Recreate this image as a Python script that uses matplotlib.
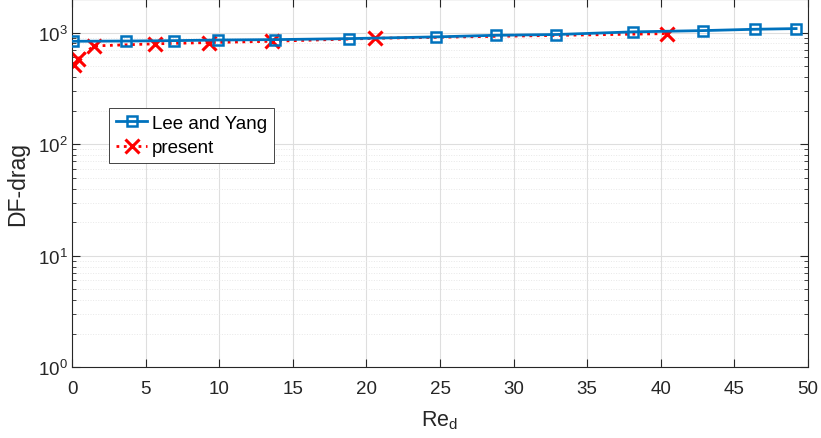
import numpy as np
import matplotlib
matplotlib.use("Agg")
import matplotlib.pyplot as plt
from matplotlib.ticker import LogLocator, NullFormatter

# drag vs Reynolds number
re_lee = [0.05, 3.65, 6.9, 9.9, 13.8, 18.8, 24.7, 28.8, 32.9, 38.1, 42.9, 46.4, 49.2]
drag_lee = [836, 840, 847, 858, 865, 883, 915, 946, 961, 1015, 1042, 1071, 1086]

re_present = [0.09, 0.36, 1.45, 5.6, 9.3, 13.6, 20.6, 40.45]
drag_present = [513, 577, 759, 793, 814, 836, 889, 979]

plt.rcParams['font.family'] = ['Liberation Sans', 'DejaVu Sans']
plt.rcParams['mathtext.fontset'] = 'custom'
plt.rcParams['mathtext.rm'] = 'Liberation Sans'

fig = plt.figure(figsize=(8.21, 4.39), dpi=100)
ax = fig.add_axes([0.088, 0.161, 0.896, 0.839])

ax.plot(re_lee, drag_lee, '-s', color=(0, 0.447, 0.741), lw=2,
        markersize=6.5, markerfacecolor='none', markeredgewidth=1.8,
        label='Lee and Yang', zorder=3)
ax.plot(re_present, drag_present, ':x', color='red', lw=2,
        markersize=10, markeredgewidth=2.2, label='present', zorder=2)

ax.set_yscale('log')
ax.set_xlim(0, 50)
ax.set_ylim(1, 2000)
ax.set_xticks(np.arange(0, 51, 5))
ax.yaxis.set_major_locator(LogLocator(base=10, numticks=10))
ax.yaxis.set_minor_locator(LogLocator(base=10, subs=np.arange(2, 10), numticks=20))
ax.yaxis.set_minor_formatter(NullFormatter())

ax.grid(True, which='major', color='#dedede', lw=0.8)
ax.grid(True, which='minor', axis='y', color='#e8e8e8', lw=0.7, ls=':')
ax.set_axisbelow(True)

ax.tick_params(which='both', direction='in', top=True, right=True,
               labelsize=13.5, colors='#262626')
ax.tick_params(which='major', length=6)
ax.tick_params(which='minor', length=3)
ax.tick_params(axis='x', pad=9)
for s in ax.spines.values():
    s.set_color('#262626')
    s.set_linewidth(0.8)

ax.set_xlabel('Re$_\\mathregular{d}$', fontsize=15.5, color='#262626', labelpad=8)
ax.set_ylabel('DF-drag', fontsize=16.5, color='#262626', labelpad=6)

leg = ax.legend(loc='upper left', bbox_to_anchor=(0.05, 0.704), fontsize=13.5,
                fancybox=False, framealpha=1, edgecolor='#262626',
                borderaxespad=0, handlelength=1.7, borderpad=0.35,
                labelspacing=0.4, handletextpad=0.25)
leg.get_frame().set_linewidth(0.6)

fig.savefig('out.png', dpi=100)
